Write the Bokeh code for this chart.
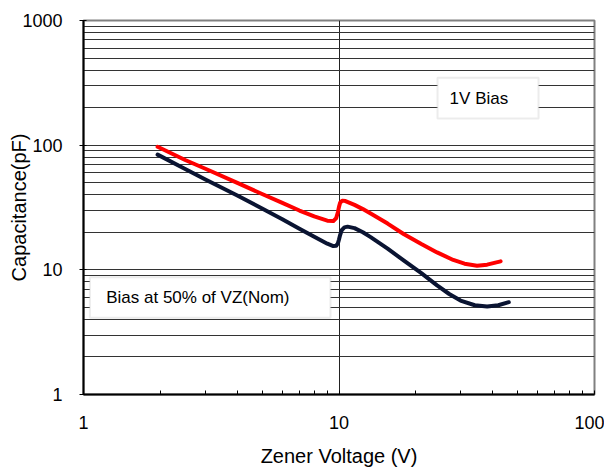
from bokeh.plotting import figure
from bokeh.models import Range1d, FixedTicker, PrintfTickFormatter, BoxAnnotation, Label
from bokeh.embed import file_html
from bokeh.resources import INLINE

# ---- data ----
red_x = [1.95, 2.5, 3, 4, 5, 6, 7, 8, 9, 9.5, 9.75, 9.9, 10.0, 10.1, 10.3, 10.6, 11.5, 12.4, 13.3, 15.5, 17.9, 21, 24.2, 28, 31, 34.7, 38, 42.9]
red_y = [97, 76, 64.7, 49.8, 40.6, 34.4, 29.9, 26.8, 24.8, 24.6, 26, 29, 32, 34.5, 35.9, 35.6, 33.2, 30.7, 28.3, 23.5, 19.4, 16.1, 13.8, 12.0, 11.2, 10.8, 11.0, 11.7]

blk_x = [1.95, 2.5, 3, 4, 5, 6, 7, 8, 9, 9.5, 9.75, 9.9, 10.0, 10.1, 10.25, 10.5, 10.8, 11.5, 12.4, 13.3, 15.5, 17.9, 21, 24.2, 27, 29.9, 34, 38, 42, 46.2]
blk_y = [84, 64.5, 53, 39.5, 31, 25.5, 21.4, 18.4, 16.2, 15.5, 15.6, 16.3, 17.5, 19, 20.8, 21.9, 22.2, 21.6, 20.0, 18.3, 14.8, 11.9, 9.4, 7.5, 6.4, 5.67, 5.2, 5.08, 5.2, 5.5]

x_major = [1, 10, 100]
x_minor = [2, 3, 4, 5, 6, 7, 8, 9, 20, 30, 40, 50, 60, 70, 80, 90]
y_major = [1, 10, 100, 1000]
y_grid = [m * d for d in (1, 10, 100) for m in range(1, 10)] + [1000]

FONT = "Liberation Sans"

p = figure(width=604, height=469, x_axis_type="log", y_axis_type="log",
           x_range=Range1d(1, 100), y_range=Range1d(1, 1000),
           output_backend="svg", toolbar_location=None,
           min_border_left=83, min_border_top=20, min_border_right=10, min_border_bottom=75)

p.outline_line_color = "#808080"
p.outline_line_width = 2
p.background_fill_color = "white"
p.border_fill_color = "white"

# grids
p.xgrid.ticker = FixedTicker(ticks=[10])
p.ygrid.ticker = FixedTicker(ticks=y_grid)
p.xgrid.grid_line_color = "#222222"
p.ygrid.grid_line_color = "#333333"
p.xgrid.grid_line_width = 1
p.ygrid.grid_line_width = 1

# x axis
p.xaxis.ticker = FixedTicker(ticks=x_major, minor_ticks=x_minor)
p.xaxis.formatter = PrintfTickFormatter(format="%d")
p.xaxis.major_tick_in = 4
p.xaxis.major_tick_out = 0
p.xaxis.minor_tick_in = 4
p.xaxis.minor_tick_out = 0
p.xaxis.major_label_standoff = 21
p.xaxis.axis_label = "Zener Voltage (V)"
p.xaxis.axis_label_standoff = 13

# y axis
p.yaxis.ticker = FixedTicker(ticks=y_major)
p.yaxis.formatter = PrintfTickFormatter(format="%d")
p.yaxis.major_tick_in = 3
p.yaxis.major_tick_out = 4
p.yaxis.major_label_standoff = 17
p.yaxis.axis_label = "Capacitance(pF)"
p.yaxis.axis_label_standoff = -11

for ax in (p.xaxis, p.yaxis):
    ax.axis_line_color = "black"
    ax.axis_line_width = 2
    ax.major_tick_line_color = "black"
    ax.major_label_text_font = FONT
    ax.major_label_text_font_size = "18px"
    ax.major_label_text_color = "black"
    ax.axis_label_text_font = FONT
    ax.axis_label_text_font_size = "20px"
    ax.axis_label_text_font_style = "normal"
    ax.axis_label_text_color = "black"
p.xaxis.minor_tick_line_color = "black"
p.yaxis.minor_tick_line_color = None

# curves
p.line(red_x, red_y, line_color="#ff0000", line_width=4, line_join="round", line_cap="round")
p.line(blk_x, blk_y, line_color="#0a1432", line_width=4, line_join="round", line_cap="round")

# text boxes
p.add_layout(BoxAnnotation(left=24.3, right=60.4, bottom=163.4, top=348,
                           fill_color="white", fill_alpha=1,
                           line_color="#c0c0c0", line_width=2))
p.add_layout(Label(x=27.1, y=236.6, text="1V Bias", text_font=FONT,
                   text_font_size="17px", text_baseline="middle", text_color="black"))

p.add_layout(BoxAnnotation(left=1.059, right=9.26, bottom=4.12, top=8.73,
                           fill_color="white", fill_alpha=1,
                           line_color="#c0c0c0", line_width=2))
p.add_layout(Label(x=1.227, y=6.0, text="Bias at 50% of VZ(Nom)", text_font=FONT,
                   text_font_size="17px", text_baseline="middle", text_color="black"))

open("out.html", "w").write(file_html(p, INLINE))
